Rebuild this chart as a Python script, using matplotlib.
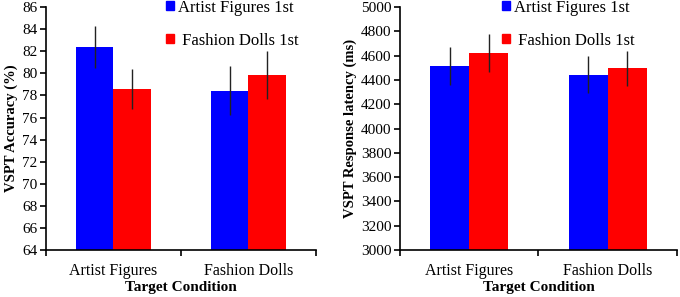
import numpy as np
import matplotlib
matplotlib.use("Agg")
import matplotlib.pyplot as plt
from matplotlib.patches import Patch

plt.rcParams['font.family'] = ['Liberation Serif', 'DejaVu Serif']

categories = ["Artist Figures", "Fashion Dolls"]
series = ["Artist Figures 1st", " Fashion Dolls 1st"]

acc_artist_1st = [82.4, 78.45]
acc_artist_1st_err = [1.9, 2.2]
acc_dolls_1st = [78.6, 79.85]
acc_dolls_1st_err = [1.8, 2.15]

lat_artist_1st = [4515, 4445]
lat_artist_1st_err = [160, 150]
lat_dolls_1st = [4620, 4495]
lat_dolls_1st_err = [155, 145]

colors = ["#0000FF", "#FF0000"]

fig = plt.figure(figsize=(6.8, 2.97), dpi=100)
ax1 = fig.add_axes([0.0676, 0.158, 0.397, 0.818])
ax2 = fig.add_axes([0.588, 0.158, 0.4076, 0.818])


def draw(ax, a, ae, d, de, ylim, step, ylabel, leg_x):
    x = np.arange(len(categories))
    w = 0.28
    ax.bar(x - w / 2, a, w, bottom=0, color=colors[0], zorder=2)
    ax.bar(x + w / 2, d, w, bottom=0, color=colors[1], zorder=2)
    ax.errorbar(x - w / 2, a, yerr=ae, fmt='none', ecolor='#222222',
                elinewidth=1, capsize=0, zorder=3)
    ax.errorbar(x + w / 2, d, yerr=de, fmt='none', ecolor='#222222',
                elinewidth=1, capsize=0, zorder=3)
    ax.set_xlim(-0.5, 1.5)
    ax.set_ylim(*ylim)
    ax.set_yticks(np.arange(ylim[0], ylim[1] + step / 2, step))
    ax.set_xticks([-0.5, 0.5, 1.5])
    ax.set_xticklabels([])
    ax.set_xticks(x, minor=True)
    ax.set_xticklabels(categories, minor=True, fontsize=11.5)
    ax.tick_params(axis='x', which='minor', length=0, pad=9)
    ax.tick_params(axis='x', which='major', length=4, width=1.2, direction='out')
    ax.tick_params(axis='y', length=4, width=1.2, labelsize=11, pad=2)
    for s in ['top', 'right']:
        ax.spines[s].set_visible(False)
    for s in ['left', 'bottom']:
        ax.spines[s].set_linewidth(1.2)
    ax.set_xlabel("Target Condition", fontsize=11, fontweight='bold', labelpad=2)
    ax.set_ylabel(ylabel, fontsize=10.5, fontweight='bold', labelpad=3)
    handles = [Patch(color=colors[0]), Patch(color=colors[1])]
    ax.legend(handles, series, loc='upper left', bbox_to_anchor=(leg_x, 1.03),
              frameon=False, fontsize=12, handlelength=0.45, handleheight=0.45,
              handletextpad=0.25, labelspacing=1.0, borderpad=0, borderaxespad=0)


draw(ax1, acc_artist_1st, acc_artist_1st_err, acc_dolls_1st, acc_dolls_1st_err,
     (64, 86), 2, "VSPT Accuracy (%)", 0.445)
draw(ax2, lat_artist_1st, lat_artist_1st_err, lat_dolls_1st, lat_dolls_1st_err,
     (3000, 5000), 200, "VSPT Response latency (ms)", 0.37)

fig.savefig("out.png", dpi=100)
